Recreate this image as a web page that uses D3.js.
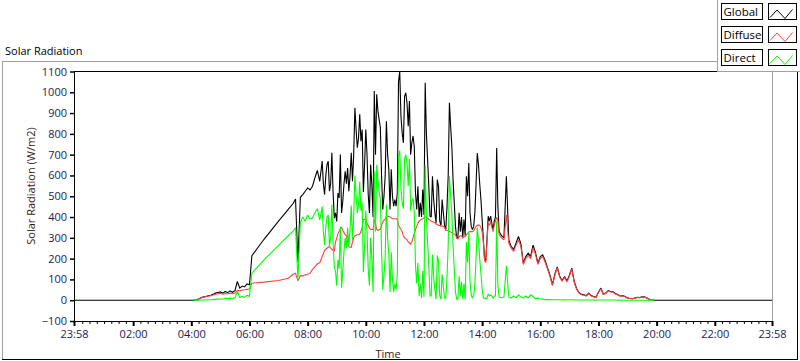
<!DOCTYPE html>
<html><head><meta charset="utf-8">
<script src="https://cdn.jsdelivr.net/npm/d3@7"></script>
<style>
html,body{margin:0;padding:0;background:#fff;}
svg{display:block;font-family:"Open Sans","Noto Sans",sans-serif;}
</style></head><body>
<svg id="chart" width="800" height="361"></svg>
<script>
// ---- data ----
const times = ["23:58","04:00",
"04:05","04:10","04:15","04:20","04:25","04:30","04:35","04:40","04:45","04:50","04:55",
"05:00","05:05","05:10","05:15","05:20","05:25","05:30","05:35","05:40","05:45","05:50","05:55",
"06:00","06:05","06:30","07:00","07:20","07:30","07:35","07:40","07:45","07:50","07:55",
"08:00","08:05","08:10","08:15","08:20","08:25",
"08:30","08:32:30","08:35","08:37:30","08:40","08:42:30","08:45","08:47:30","08:50","08:52:30","08:55","08:57:30",
"09:00","09:02:30","09:05","09:07:30","09:10","09:12:30","09:15","09:17:30","09:20","09:22:30","09:25","09:27:30",
"09:30","09:32:30","09:35","09:37:30","09:40","09:42:30","09:45","09:47:30","09:50","09:52:30","09:55","09:57:30",
"10:00","10:02:30","10:05","10:07:30","10:10","10:12:30","10:15","10:17:30","10:20","10:22:30","10:25","10:27:30",
"10:30","10:32:30","10:35","10:37:30","10:40","10:42:30","10:45","10:47:30","10:50","10:52:30","10:55","10:57:30",
"11:00","11:02:30","11:05","11:07:30","11:10","11:12:30","11:15","11:17:30","11:20","11:22:30","11:25","11:27:30",
"11:30","11:32:30","11:35","11:37:30","11:40","11:42:30","11:45","11:47:30","11:50","11:52:30","11:55","11:57:30",
"12:00","12:02:30","12:05","12:07:30","12:10","12:12:30","12:15","12:17:30","12:20","12:22:30","12:25","12:27:30",
"12:30","12:32:30","12:35","12:37:30","12:40","12:42:30","12:45","12:47:30","12:50","12:52:30","12:55","12:57:30",
"13:00","13:02:30","13:05","13:07:30","13:10","13:12:30","13:15","13:17:30","13:20","13:22:30","13:25","13:27:30",
"13:30","13:32:30","13:35","13:37:30","13:40","13:42:30","13:45","13:47:30","13:50","13:52:30","13:55","13:57:30",
"14:00","14:02:30","14:05","14:07:30","14:10","14:12:30","14:15","14:17:30","14:20","14:22:30","14:25","14:27:30",
"14:30","14:32:30","14:35",
"14:40","14:45","14:50","14:55",
"15:00","15:05","15:10","15:15","15:20","15:25","15:30","15:35","15:40","15:45","15:50","15:55",
"16:00","16:05","16:10","16:15","16:20","16:25","16:30","16:35","16:40","16:45","16:50","16:55",
"17:00","17:05","17:10","17:15","17:20","17:25","17:30","17:35","17:40","17:45","17:50","17:55",
"18:00","18:05","18:10","18:15","18:20","18:25","18:30","18:35","18:40","18:45","18:50","18:55",
"19:00","19:05","19:10","19:15","19:20","19:25","19:30","19:35","19:40","19:45","19:50","19:55",
"20:00","23:58"];

const globalRad = [0,0,
0,2,6,12,16,18,21,24,28,34,37,
40,34,42,36,45,38,46,90,58,68,64,78,
74,214,293,380,437,465,487,185,495,508,524,
540,530,548,588,624,572,
669,560,508,600,653,668,524,560,709,520,395,420,
379,515,492,701,420,476,560,620,560,636,524,600,
709,572,700,926,820,733,780,894,765,821,520,653,
821,700,508,420,653,556,400,1006,700,990,910,870,
830,600,436,500,600,861,700,630,436,630,500,452,
484,452,516,1050,1100,886,805,757,980,998,950,837,
958,700,757,790,740,516,436,548,400,468,400,532,
410,1046,800,676,548,404,400,596,484,420,370,580,
548,380,360,484,420,360,340,450,600,950,837,740,
580,468,355,300,300,420,330,400,300,388,310,596,
500,660,420,355,340,355,420,560,708,650,560,484,
388,291,200,190,291,404,380,404,370,339,380,400,
732,450,330,
310,300,596,290,
258,245,275,307,270,178,210,226,210,265,230,178,
210,218,190,155,120,75,125,160,115,95,114,92,
120,154,90,55,36,28,26,22,34,22,18,14,
40,58,30,34,46,42,40,32,26,20,22,18,
10,8,7,10,14,13,16,16,10,5,2,0,
0,0];

const diffuseRad = [null,null,
0,2,6,11,15,17,19,22,25,29,31,
33,29,32,30,34,31,35,47,45,49,50,52,
54,82,87,95,106,125,130,93,118,117,122,
125,130,148,160,175,180,
210,225,240,245,250,255,258,250,245,240,235,280,
299,320,330,345,350,335,325,315,310,280,258,255,
254,280,300,310,312,315,315,318,330,350,387,390,
385,370,360,345,340,340,340,387,370,340,335,340,
340,360,376,385,390,404,404,402,400,396,392,392,
392,392,390,360,350,340,330,310,300,295,290,280,
275,270,280,300,320,340,355,370,380,385,390,392,
395,400,400,395,390,385,380,378,375,372,365,365,
360,360,355,358,355,350,335,335,335,330,328,325,
320,318,315,300,295,305,310,310,300,305,305,315,
320,328,330,330,330,335,345,355,360,362,360,350,
330,280,190,180,280,370,360,380,350,330,360,380,
400,380,315,
300,290,410,275,
250,235,265,290,258,172,200,215,200,252,222,172,
202,210,182,150,115,70,120,155,110,92,110,88,
116,150,86,52,34,26,24,20,32,20,16,13,
38,55,28,32,44,40,38,30,25,19,21,17,
10,8,7,10,13,12,15,15,10,5,2,0,
null,null];

const directRad = [null,null,
0,0,0,1,1,1,2,2,3,4,5,
7,5,10,6,11,7,12,42,13,19,14,24,
18,130,194,264,310,332,350,100,375,400,380,
410,390,395,420,440,385,
450,330,265,350,400,410,260,300,460,280,160,140,
70,195,150,355,60,140,235,300,250,350,260,340,
455,290,400,600,500,420,460,570,430,470,135,260,
430,330,150,70,300,200,40,620,330,650,580,520,
490,240,50,120,210,460,300,220,40,230,100,40,
80,50,120,690,720,540,470,440,680,700,660,550,
680,430,476,490,420,170,80,180,20,80,10,140,
15,650,400,280,160,20,20,220,110,50,5,215,
190,20,5,125,65,10,10,110,265,596,500,420,
260,150,40,5,5,115,20,90,5,80,5,280,
180,330,90,25,10,20,75,205,350,290,200,130,
55,10,10,8,10,30,20,25,20,10,20,20,
380,70,15,
12,15,165,15,
10,20,12,25,15,10,20,12,25,18,8,10,
6,5,3,3,3,2,2,2,2,1,2,1,
2,2,1,1,1,1,1,1,1,1,1,0,
1,1,1,1,1,1,1,1,0,0,0,0,
0,0,0,0,0,0,0,0,0,0,0,0,
null,null];

const seriesNames = ["Global","Diffuse","Direct"];
const seriesColors = ["#000000","#ff4040","#00ff00"];
const yTicks = [-100,0,100,200,300,400,500,600,700,800,900,1000,1100];
const xTickLabels = ["23:58","02:00","04:00","06:00","08:00","10:00","12:00","14:00","16:00","18:00","20:00","22:00","23:58"];
const chartTitle = "Solar Radiation";
const yTitle = "Solar Radiation (W/m2)";
const xTitle = "Time";

// ---- helpers ----
function toMin(s, i) {
  const [h, m, sec] = s.split(":").map(Number);
  let v = h * 60 + m + (sec || 0) / 60;
  if (i === 0 && v > 1380) v -= 1440;
  return v;
}
const tMin = times.map(toMin);
const xTickVals = xTickLabels.map(toMin);
if (globalRad.length !== times.length || diffuseRad.length !== times.length || directRad.length !== times.length)
  console.error("length mismatch", times.length, globalRad.length, diffuseRad.length, directRad.length);

const svg = d3.select("#chart");
const x = d3.scaleLinear().domain([xTickVals[0], xTickVals[xTickVals.length - 1]]).range([74, 772]);
const y = d3.scaleLinear().domain([-100, 1100]).range([321, 71.5]);

const labelColor = "#1c1c50";

// outer panel frame
svg.append("line").attr("x1", 2).attr("x2", 718).attr("y1", 61.5).attr("y2", 61.5).attr("stroke", "#a0a0a0");
svg.append("line").attr("x1", 2.5).attr("x2", 2.5).attr("y1", 61).attr("y2", 360).attr("stroke", "#a0a0a0");
svg.append("line").attr("x1", 2).attr("x2", 798).attr("y1", 359.5).attr("y2", 359.5).attr("stroke", "#000");
svg.append("line").attr("x1", 797.5).attr("x2", 797.5).attr("y1", 72).attr("y2", 360).attr("stroke", "#000");

// caption
svg.append("text").attr("x", 5).attr("y", 54.5).attr("font-size", 11).attr("fill", "#000").text(chartTitle);

// plot frame
svg.append("line").attr("x1", 74).attr("x2", 772).attr("y1", 71.5).attr("y2", 71.5).attr("stroke", "#000");
svg.append("line").attr("x1", 772.5).attr("x2", 772.5).attr("y1", 71.5).attr("y2", 321).attr("stroke", "#a0a0a0");

// clip
svg.append("clipPath").attr("id", "clip").append("rect").attr("x", 74).attr("y", 71).attr("width", 699).attr("height", 251);

const plot = svg.append("g").attr("clip-path", "url(#clip)");
const seriesData = [globalRad, diffuseRad, directRad];
seriesData.forEach((vals, si) => {
  const pts = tMin.map((t, i) => [t, vals[i]]);
  const line = d3.line().defined(d => d[1] !== null).x(d => x(d[0])).y(d => y(d[1]));
  plot.append("path").attr("d", line(pts)).attr("fill", "none")
    .attr("stroke", seriesColors[si]).attr("stroke-width", 1.1)
    .attr("stroke-linejoin", "miter").attr("stroke-miterlimit", 2);
});

// y axis
const yAxis = svg.append("g").attr("transform", "translate(74,0)")
  .call(d3.axisLeft(y).tickValues(yTicks).tickSize(4).tickPadding(3).tickFormat(d3.format("d")));
yAxis.select(".domain").remove();
yAxis.selectAll(".tick line").attr("stroke", "#000").attr("stroke-width", 1.5);
yAxis.selectAll("text").attr("fill", labelColor).attr("font-size", 11).attr("font-family", "Open Sans");
svg.append("line").attr("x1", 74.5).attr("x2", 74.5).attr("y1", 71).attr("y2", 321).attr("stroke", "#000");

// x axis minor ticks
const minorVals = d3.range(15, 1440, 15).filter(v => !xTickVals.includes(v) && v < xTickVals[xTickVals.length - 1]);
const xMinor = svg.append("g").attr("transform", "translate(0,321)")
  .call(d3.axisBottom(x).tickValues(minorVals).tickSize(3).tickFormat(""));
xMinor.select(".domain").remove();
xMinor.selectAll(".tick line").attr("stroke", "#000");

// x axis major
const xAxis = svg.append("g").attr("transform", "translate(0,321)")
  .call(d3.axisBottom(x).tickValues(xTickVals).tickSize(5).tickPadding(4).tickFormat((d, i) => xTickLabels[i]));
xAxis.select(".domain").remove();
xAxis.selectAll(".tick line").attr("stroke", "#000").attr("stroke-width", 2);
xAxis.selectAll("text").attr("fill", labelColor).attr("font-size", 11).attr("font-family", "Open Sans");
svg.append("line").attr("x1", 74).attr("x2", 772).attr("y1", 321.5).attr("y2", 321.5).attr("stroke", "#000");

// axis titles
svg.append("text").attr("transform", "translate(35,186) rotate(-90)").attr("text-anchor", "middle")
  .attr("font-size", 11).attr("fill", "#3a1a1a").text(yTitle);
svg.append("text").attr("x", 388).attr("y", 358).attr("text-anchor", "middle")
  .attr("font-size", 11).attr("fill", "#3a1a1a").text(xTitle);

// legend
const lg = svg.append("g");
lg.append("rect").attr("x", 718).attr("y", 0).attr("width", 82).attr("height", 72).attr("fill", "#fff");
lg.append("line").attr("x1", 717.5).attr("x2", 717.5).attr("y1", 0).attr("y2", 72).attr("stroke", "#a0a0a0");
lg.append("line").attr("x1", 717.5).attr("x2", 800).attr("y1", 71.5).attr("y2", 71.5).attr("stroke", "#a0a0a0");
seriesNames.forEach((name, i) => {
  const top = 3.5 + i * 23;
  lg.append("rect").attr("x", 721.5).attr("y", top).attr("width", 41).attr("height", 16)
    .attr("fill", "#fff").attr("stroke", "#000");
  lg.append("text").attr("x", 723.5).attr("y", top + 12.5).attr("font-size", 11.5).attr("fill", "#000").text(name);
  lg.append("rect").attr("x", 768.5).attr("y", top).attr("width", 28).attr("height", 16)
    .attr("fill", "#fff").attr("stroke", "#000");
  lg.append("polyline")
    .attr("points", [[770, top + 14], [777, top + 6.5], [785, top + 15], [792.5, top + 6]].map(p => p.join(",")).join(" "))
    .attr("fill", "none").attr("stroke", seriesColors[i]).attr("stroke-width", 1);
});
</script>
</body></html>
